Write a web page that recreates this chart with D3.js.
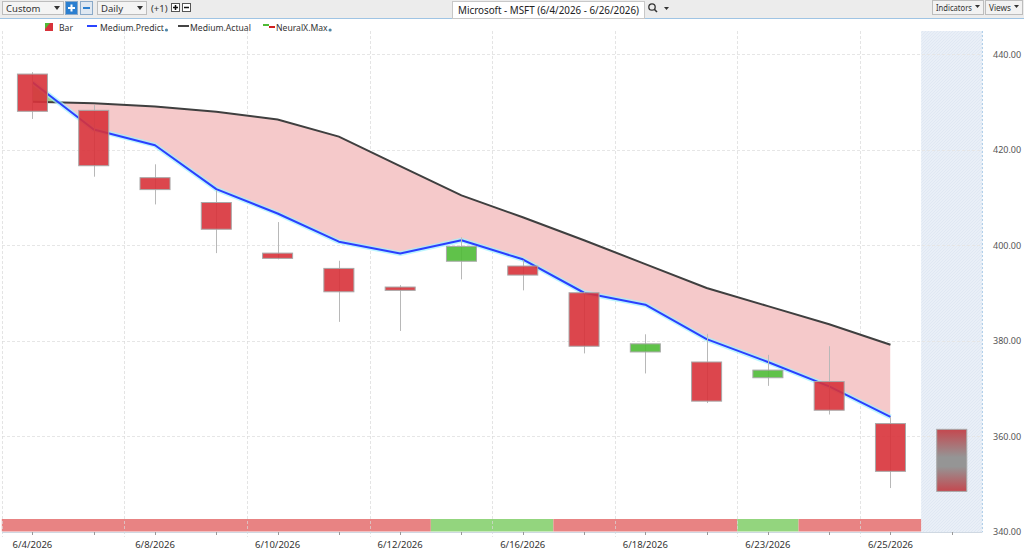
<!DOCTYPE html>
<html>
<head>
<meta charset="utf-8">
<script src="https://cdn.jsdelivr.net/npm/d3@7"></script>
<style>
  body { margin: 0; background: #fff; overflow: hidden; }
  text { font-family: "Segoe UI", "Noto Sans", "Open Sans", sans-serif; }
</style>
</head>
<body>
<div id="chart"></div>
<script>
const w = 1024;
const h = 553;

// trading days, last one is the forecast slot
const dates = ['6/4/2026', '6/5/2026', '6/8/2026', '6/9/2026', '6/10/2026', '6/11/2026', '6/12/2026', '6/15/2026',
               '6/16/2026', '6/17/2026', '6/18/2026', '6/22/2026', '6/23/2026', '6/24/2026', '6/25/2026', '6/26/2026'];
const dateLabels = ['6/4/2026', '6/8/2026', '6/10/2026', '6/12/2026', '6/16/2026', '6/18/2026', '6/23/2026', '6/25/2026'];

const open  = [435.8, 428.2, 414.1, 408.9, 398.3, 395.1, 391.2, 396.6, 395.6, 390.0, 377.6, 375.5, 372.2, 371.4, 362.6];
const high  = [436.2, 429.3, 416.9, 411.5, 404.8, 396.7, 391.6, 401.6, 396.8, 390.2, 381.3, 381.4, 377.0, 378.8, 364.0];
const low   = [426.4, 414.3, 408.5, 398.3, 397.0, 383.9, 382.0, 392.8, 390.5, 377.3, 373.1, 366.9, 370.5, 364.5, 349.1];
const close = [428.0, 416.6, 411.6, 403.3, 397.2, 390.2, 390.5, 399.7, 393.7, 378.8, 379.3, 367.3, 373.8, 365.4, 352.6];

const mediumPredict = [434.1, 424.2, 420.9, 411.7, 406.6, 400.7, 398.2, 401.0, 397.0, 390.0, 387.5, 380.3, 375.5, 370.4, 364.0];
const mediumActual  = [430.0, 429.7, 429.0, 427.9, 426.3, 422.7, 416.5, 410.4, 405.8, 401.0, 396.0, 391.0, 387.2, 383.4, 379.1];

// NeuralX.Max strip: 1 = up (green), 0 = down (red)
const neuralX = [0, 0, 0, 0, 0, 0, 0, 1, 1, 0, 0, 0, 1, 0, 0];

const forecastHigh = 361.4;
const forecastLow = 348.4;

const yTicks = [340, 360, 380, 400, 420, 440];

const legendItems = [
   {key: 'bar', label: 'Bar', x: 45, dot: false},
   {key: 'predict', label: 'Medium.Predict', x: 87, dot: true},
   {key: 'actual', label: 'Medium.Actual', x: 178, dot: false},
   {key: 'neural', label: 'NeuralX.Max', x: 263, dot: true}
];

const RED = '#d8323a';
const GREEN = '#4fbb36';

const svg = d3.select('#chart')
              .append('svg')
              .attr('width', w)
              .attr('height', h)
              .style('background-color', 'white');

const defs = svg.append('defs');

const x = d3.scaleBand().domain(dates).range([1.8, 982.4]).padding(0);
const cx = d => x(d) + x.bandwidth() / 2;
const y = d3.scaleLinear().domain([340, 440]).range([531.5, 54]);

const plotTop = 31;
const plotBottom = 532;

// ---------- toolbar ----------
const bar = svg.append('g');
bar.append('rect').attr('width', w).attr('height', 18).attr('fill', '#ececec');
bar.append('line').attr('x1', 0).attr('x2', w).attr('y1', 18.5).attr('y2', 18.5)
   .attr('stroke', '#9fc4e4').attr('stroke-width', 1);

function dropdown(x0, wd, label) {
   bar.append('rect').attr('x', x0 + 0.5).attr('y', 1.5).attr('width', wd).attr('height', 13)
      .attr('fill', '#f4f4f4').attr('stroke', '#bdbdbd');
   bar.append('text').attr('x', x0 + 4).attr('y', 11.5).attr('font-size', '9.5px').attr('fill', '#333').text(label);
   bar.append('path').attr('d', `M${x0 + wd - 9},6 l6,0 l-3,4 z`).attr('fill', '#333');
}
dropdown(2, 61, 'Custom');
dropdown(97, 49, 'Daily');

function blueBtn(x0, plus) {
   bar.append('rect').attr('x', x0 + 0.5).attr('y', 1.5).attr('width', 12).attr('height', 13)
      .attr('fill', plus ? '#2b7fd0' : '#dfe8f2').attr('stroke', '#8aa9c8');
   bar.append('line').attr('x1', x0 + 3).attr('x2', x0 + 10).attr('y1', 8).attr('y2', 8)
      .attr('stroke', plus ? '#fff' : '#2b7fd0').attr('stroke-width', 2);
   if (plus) bar.append('line').attr('x1', x0 + 6.5).attr('x2', x0 + 6.5).attr('y1', 4.5).attr('y2', 11.5)
      .attr('stroke', '#fff').attr('stroke-width', 2);
}
blueBtn(65, true);
blueBtn(80, false);

bar.append('text').attr('x', 151).attr('y', 11.5).attr('font-size', '9.5px').attr('fill', '#333').text('(+1)');
function smallBtn(x0, plus) {
   bar.append('rect').attr('x', x0 + 0.5).attr('y', 3.5).attr('width', 8).attr('height', 8)
      .attr('fill', '#fff').attr('stroke', '#555');
   bar.append('line').attr('x1', x0 + 2).attr('x2', x0 + 7).attr('y1', 7.5).attr('y2', 7.5)
      .attr('stroke', '#111').attr('stroke-width', 1.5);
   if (plus) bar.append('line').attr('x1', x0 + 4.5).attr('x2', x0 + 4.5).attr('y1', 5).attr('y2', 10)
      .attr('stroke', '#111').attr('stroke-width', 1.5);
}
smallBtn(171, true);
smallBtn(182, false);

bar.append('rect').attr('x', 452.5).attr('y', 1.5).attr('width', 192).attr('height', 17)
   .attr('fill', '#fff').attr('stroke', '#c8c8c8');
bar.append('text').attr('x', 458).attr('y', 14).attr('font-size', '10px').attr('fill', '#222')
   .attr('textLength', 181).attr('lengthAdjust', 'spacingAndGlyphs')
   .text('Microsoft - MSFT (6/4/2026 - 6/26/2026)');
bar.append('circle').attr('cx', 652).attr('cy', 7).attr('r', 3.2).attr('fill', 'none').attr('stroke', '#333').attr('stroke-width', 1.3);
bar.append('line').attr('x1', 654.3).attr('y1', 9.3).attr('x2', 657).attr('y2', 12).attr('stroke', '#333').attr('stroke-width', 1.6);
bar.append('path').attr('d', 'M664,7 l5,0 l-2.5,3 z').attr('fill', '#333');

function rightBtn(x0, wd, label, tl) {
   bar.append('rect').attr('x', x0 + 0.5).attr('y', 0.5).attr('width', wd).attr('height', 14)
      .attr('fill', '#f2f2f2').attr('stroke', '#bdbdbd');
   bar.append('text').attr('x', x0 + 4).attr('y', 10.5).attr('font-size', '8.5px').attr('fill', '#333')
      .attr('textLength', tl).attr('lengthAdjust', 'spacingAndGlyphs').text(label);
   bar.append('path').attr('d', `M${x0 + wd - 8},5 l5,0 l-2.5,3 z`).attr('fill', '#333');
}
rightBtn(932, 51, 'Indicators', 36);
rightBtn(985, 37, 'Views', 22);

// ---------- legend ----------
const legend = svg.selectAll('.legend')
   .data(legendItems)
   .enter()
   .append('g')
   .attr('class', 'legend')
   .attr('transform', d => `translate(${d.x}, 0)`);

legend.each(function (d) {
   const g = d3.select(this);
   if (d.key === 'bar') {
      g.append('rect').attr('x', 0).attr('y', 23).attr('width', 8).attr('height', 8).attr('fill', RED);
      g.append('path').attr('d', 'M0,23 l5,0 l-5,6 z').attr('fill', GREEN);
   } else if (d.key === 'predict') {
      g.append('line').attr('x1', 0).attr('x2', 10).attr('y1', 26).attr('y2', 26).attr('stroke', '#2a44ff').attr('stroke-width', 2);
   } else if (d.key === 'actual') {
      g.append('line').attr('x1', 0).attr('x2', 11).attr('y1', 26).attr('y2', 26).attr('stroke', '#444').attr('stroke-width', 2);
   } else {
      g.append('line').attr('x1', 0).attr('x2', 6).attr('y1', 25).attr('y2', 25).attr('stroke', GREEN).attr('stroke-width', 2);
      g.append('line').attr('x1', 6).attr('x2', 12).attr('y1', 27).attr('y2', 27).attr('stroke', '#d02020').attr('stroke-width', 2);
   }
});

legend.append('text')
   .attr('x', d => d.key === 'bar' ? 14 : d.key === 'actual' ? 12 : 13)
   .attr('y', 30.5)
   .attr('font-size', '8.6px')
   .attr('fill', '#333')
   .text(d => d.label)
   .each(function (d) {
      if (!d.dot) return;
      const len = this.getComputedTextLength();
      d3.select(this.parentNode).append('circle')
        .attr('cx', +d3.select(this).attr('x') + len + 2.5).attr('cy', 30).attr('r', 1.6).attr('fill', '#4d86a8');
   });

// ---------- forecast band ----------
const hatch = defs.append('pattern').attr('id', 'hatch').attr('patternUnits', 'userSpaceOnUse')
   .attr('width', 3).attr('height', 3);
hatch.append('rect').attr('width', 3).attr('height', 3).attr('fill', '#e9eff7');
hatch.append('path').attr('d', 'M0,3 L3,0').attr('stroke', '#dce5f1').attr('stroke-width', 0.7);

const last = dates[dates.length - 1];
svg.append('rect')
   .attr('x', x(last)).attr('y', plotTop)
   .attr('width', x.bandwidth()).attr('height', plotBottom - plotTop)
   .attr('fill', 'url(#hatch)');
svg.append('line')
   .attr('x1', x(last) + x.bandwidth()).attr('x2', x(last) + x.bandwidth())
   .attr('y1', plotTop).attr('y2', plotBottom)
   .attr('stroke', '#a9cbe8').attr('stroke-dasharray', '2,2');

// ---------- grid ----------
svg.append('g').selectAll('line')
   .data(yTicks.filter(t => t > 340))
   .enter().append('line')
   .attr('x1', 2).attr('x2', x(last) + x.bandwidth())
   .attr('y1', d => Math.round(y(d)) + 0.5).attr('y2', d => Math.round(y(d)) + 0.5)
   .attr('stroke', '#e6e6e6').attr('stroke-dasharray', '3,2');

// ---------- NeuralX.Max strip (consecutive days merged into runs) ----------
const runs = [];
neuralX.forEach((v, i) => {
   const prev = runs[runs.length - 1];
   if (prev && prev.v === v) prev.end = i;
   else runs.push({v, start: i, end: i});
});
svg.append('g').selectAll('rect')
   .data(runs)
   .enter().append('rect')
   .attr('x', d => x(dates[d.start]))
   .attr('width', d => x(dates[d.end]) + x.bandwidth() - x(dates[d.start]))
   .attr('y', 519).attr('height', 12.5)
   .attr('fill', d => d.v ? '#93d57e' : '#e88383');

svg.append('g').selectAll('line')
   .data(dates.filter((d, i) => i % 2 === 0 && i < 15))
   .enter().append('line')
   .attr('x1', d => Math.round(x(d)) + 0.5).attr('x2', d => Math.round(x(d)) + 0.5)
   .attr('y1', plotTop).attr('y2', 537)
   .attr('stroke', '#d8d8d8').attr('stroke-opacity', 0.7).attr('stroke-dasharray', '3,2');

// bottom axis line and ticks
svg.append('line').attr('x1', 2).attr('x2', x(last) + x.bandwidth()).attr('y1', 532.5).attr('y2', 532.5)
   .attr('stroke', '#cfd8e2');
svg.append('g').selectAll('line')
   .data(dates)
   .enter().append('line')
   .attr('x1', d => Math.round(cx(d)) + 0.5).attr('x2', d => Math.round(cx(d)) + 0.5)
   .attr('y1', 532).attr('y2', 535)
   .attr('stroke', '#999');

// ---------- difference fill between Medium.Actual and Medium.Predict ----------
const series = mediumActual.map((a, i) => ({date: dates[i], actual: a, predict: mediumPredict[i]}));

const areaBetween = d3.area().x(d => cx(d.date)).y0(d => y(d.actual)).y1(d => y(d.predict));
const aboveActual = d3.area().x(d => cx(d.date)).y0(0).y1(d => y(d.actual));
const belowActual = d3.area().x(d => cx(d.date)).y0(h).y1(d => y(d.actual));

defs.append('clipPath').attr('id', 'clip-above').append('path').attr('d', aboveActual(series));
defs.append('clipPath').attr('id', 'clip-below').append('path').attr('d', belowActual(series));

svg.append('path').attr('d', areaBetween(series)).attr('clip-path', 'url(#clip-below)')
   .attr('fill', '#f5c9ca');
svg.append('path').attr('d', areaBetween(series)).attr('clip-path', 'url(#clip-above)')
   .attr('fill', '#9fd08a');

const line = key => d3.line().x(d => cx(d.date)).y(d => y(d[key]));

svg.append('path').attr('d', line('actual')(series))
   .attr('fill', 'none').attr('stroke', '#3f3f3f').attr('stroke-width', 2);

svg.append('path').attr('d', line('predict')(series))
   .attr('fill', 'none').attr('stroke', '#9ff2ff').attr('stroke-width', 5).attr('stroke-opacity', 0.7)
   .attr('stroke-linejoin', 'round');
svg.append('path').attr('d', line('predict')(series))
   .attr('fill', 'none').attr('stroke', '#2a3fff').attr('stroke-width', 2)
   .attr('stroke-linejoin', 'round');

// ---------- candles ----------
const candles = open.map((o, i) => ({date: dates[i], o, h: high[i], l: low[i], c: close[i]}));
const bodyW = x.bandwidth() * 0.49;

svg.append('g').selectAll('line')
   .data(candles)
   .enter().append('line')
   .attr('x1', d => Math.round(cx(d.date)) + 0.5).attr('x2', d => Math.round(cx(d.date)) + 0.5)
   .attr('y1', d => y(d.h)).attr('y2', d => y(d.l))
   .attr('stroke', '#b8b8b8').attr('stroke-width', 1);

svg.append('g').selectAll('rect')
   .data(candles)
   .enter().append('rect')
   .attr('x', d => cx(d.date) - bodyW / 2)
   .attr('width', bodyW)
   .attr('y', d => y(Math.max(d.o, d.c)))
   .attr('height', d => Math.max(2, Math.abs(y(d.o) - y(d.c))))
   .attr('fill', d => d.c >= d.o ? GREEN : RED)
   .attr('fill-opacity', 0.9)
   .attr('stroke', '#a8a8a8').attr('stroke-width', 1);

// forecast candle
const grad = defs.append('linearGradient').attr('id', 'fgrad').attr('x1', 0).attr('x2', 0).attr('y1', 0).attr('y2', 1);
grad.append('stop').attr('offset', '0%').attr('stop-color', '#c4484f');
grad.append('stop').attr('offset', '45%').attr('stop-color', '#959595');
grad.append('stop').attr('offset', '60%').attr('stop-color', '#959595');
grad.append('stop').attr('offset', '100%').attr('stop-color', '#c4484f');

svg.append('rect')
   .attr('x', cx(last) - bodyW / 2).attr('width', bodyW)
   .attr('y', y(forecastHigh)).attr('height', y(forecastLow) - y(forecastHigh))
   .attr('fill', 'url(#fgrad)').attr('stroke', '#a8a8a8');

// ---------- axes labels ----------
svg.append('g').selectAll('text')
   .data(yTicks)
   .enter().append('text')
   .attr('x', 993).attr('y', d => y(d) + 3.5)
   .attr('font-size', '9px').attr('fill', '#555')
   .text(d => d3.format('.2f')(d));

svg.append('g').selectAll('text')
   .data(dateLabels)
   .enter().append('text')
   .attr('x', d => cx(d)).attr('y', 547.5)
   .attr('text-anchor', 'middle')
   .attr('font-size', '9.5px').attr('fill', '#333')
   .text(d => d);
</script>
</body>
</html>
